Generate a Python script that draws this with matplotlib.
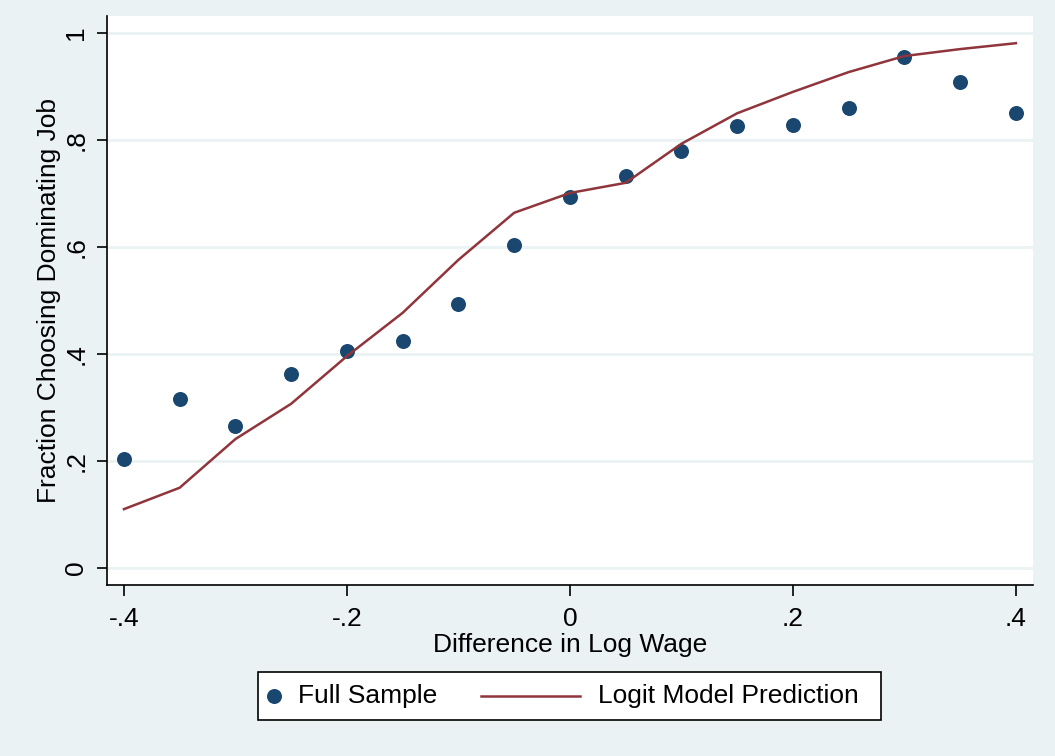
import numpy as np
import matplotlib.pyplot as plt
from matplotlib.lines import Line2D
from matplotlib.patches import Rectangle

plt.rcParams['font.family'] = ['Liberation Sans', 'DejaVu Sans']

# difference in log wage
x = [-0.4, -0.35, -0.3, -0.25, -0.2, -0.15, -0.1, -0.05, 0.0,
     0.05, 0.1, 0.15, 0.2, 0.25, 0.3, 0.35, 0.4]
# fraction choosing dominating job, full sample
full_sample = [0.204, 0.316, 0.265, 0.363, 0.406, 0.424, 0.493, 0.604, 0.693,
               0.733, 0.779, 0.826, 0.828, 0.860, 0.955, 0.908, 0.850]
# logit model prediction
logit_pred = [0.110, 0.150, 0.241, 0.307, 0.396, 0.477, 0.576, 0.664, 0.701,
              0.720, 0.793, 0.850, 0.890, 0.927, 0.957, 0.970, 0.981]

xticks = [-0.4, -0.2, 0, 0.2, 0.4]
xticklabels = ['-.4', '-.2', '0', '.2', '.4']
yticks = [0, 0.2, 0.4, 0.6, 0.8, 1]
yticklabels = ['0', '.2', '.4', '.6', '.8', '1']
labels = ['Full Sample', 'Logit Model Prediction']

bg = '#EAF2F3'
navy = '#1A476F'
maroon = '#90353B'
fs = 19

fig = plt.figure(figsize=(10.55, 7.56), dpi=100, facecolor=bg)
ax = fig.add_axes([0.1014, 0.2262, 0.8776, 0.7526])
ax.set_facecolor('white')

ax.plot(x, full_sample, 'o', color=navy, markersize=10.8, markeredgewidth=0,
        zorder=3)
ax.plot(x, logit_pred, '-', color=maroon, linewidth=1.8, zorder=4)

ax.set_xlim(-0.4152, 0.4152)
ax.set_ylim(-0.0318, 1.0318)
ax.set_xticks(xticks)
ax.set_xticklabels(xticklabels)
ax.set_yticks(yticks)
ax.set_yticklabels(yticklabels, rotation=90, va='center')

ax.grid(axis='y', color=bg, linewidth=2)
ax.set_axisbelow(True)
for s in ['top', 'right']:
    ax.spines[s].set_visible(False)
for s in ['left', 'bottom']:
    ax.spines[s].set_color('black')
    ax.spines[s].set_linewidth(1.2)

ax.tick_params(axis='x', direction='out', length=8, width=1.2,
               labelsize=fs, colors='black', pad=8)
ax.tick_params(axis='y', direction='out', length=7.5, width=1.2,
               labelsize=fs, colors='black', pad=6)
ax.set_xlabel('Difference in Log Wage', fontsize=fs, labelpad=1)
ax.set_ylabel('Fraction Choosing Dominating Job', fontsize=fs, labelpad=2)

# legend box drawn by hand (Stata style: marker at left, line key)
fig.add_artist(Rectangle((0.2445, 0.0476), 0.5905, 0.0635,
                         transform=fig.transFigure, facecolor='white',
                         edgecolor='black', linewidth=1.2))
ly = 0.0790
fig.add_artist(Line2D([0.2597], [ly], transform=fig.transFigure,
                      marker='o', color=navy, markersize=10.8,
                      markeredgewidth=0, linestyle='none'))
fig.text(0.2825, ly, labels[0], fontsize=fs, va='center', ha='left')
fig.add_artist(Line2D([0.4559, 0.5498], [ly, ly], transform=fig.transFigure,
                      color=maroon, linewidth=1.8))
fig.text(0.5668, ly, labels[1], fontsize=fs, va='center', ha='left')

fig.savefig('out.png', dpi=100, facecolor=bg)
